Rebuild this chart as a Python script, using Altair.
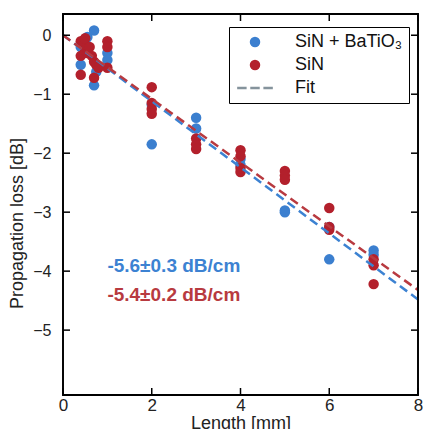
import altair as alt
import pandas as pd

# ---- data ----
blue_x = [0.4, 0.4, 0.5, 0.55, 0.7, 0.7, 0.75, 1.0, 1.0, 2, 2, 3, 3, 4, 4, 5, 5, 6, 6, 7, 7]
blue_y = [-0.2, -0.5, -0.1, -0.03, 0.08, -0.85, -0.62, -0.3, -0.42, -1.18, -1.85,
          -1.4, -1.58, -2.1, -2.2, -2.97, -3.0, -3.25, -3.8, -3.65, -3.72]
red_x = [0.4, 0.4, 0.4, 0.45, 0.5, 0.5, 0.55, 0.6, 0.65, 0.7, 0.7, 0.75, 0.8, 1.0, 1.0, 1.0,
         2, 2, 2, 2, 3, 3, 3, 4, 4, 4, 4, 5, 5, 5, 6, 6, 6, 7, 7, 7]
red_y = [-0.1, -0.35, -0.67, -0.15, -0.05, -0.25, -0.3, -0.2, -0.35, -0.45, -0.72, -0.5, -0.55,
         -0.1, -0.2, -0.55, -0.88, -1.15, -1.25, -1.33, -1.75, -1.85, -1.93,
         -1.95, -2.05, -2.25, -2.32, -2.3, -2.38, -2.45, -2.93, -3.25, -3.3, -3.8, -3.9, -4.22]

series_names = ["SiN + BaTiO\u2083", "SiN", "Fit"]
series_colors = ["#3b7fcf", "#b3202c", "#85939c"]
fit_slopes = [-0.56, -0.54]          # dB/mm  (= -5.6 and -5.4 dB/cm)
fit_colors = ["#3c82d2", "#b83a40"]
fit_x = [0, 8]
ann_text = ["-5.6\u00b10.3 dB/cm", "-5.4\u00b10.2 dB/cm"]
ann_x = [1.0, 1.0]
ann_y = [-3.92, -4.41]
x_ticks = [0, 2, 4, 6, 8]
y_ticks = [0, -1, -2, -3, -4, -5]

W, H = 355, 381
FONT = "Liberation Sans"

pts = pd.DataFrame({
    "series": [series_names[0]] * len(blue_x) + [series_names[1]] * len(red_x),
    "x": blue_x + red_x,
    "y": blue_y + red_y,
})
fit_rows = []
for name, s in zip(series_names[:2], fit_slopes):
    for xv in fit_x:
        fit_rows.append({"fit": name, "x": xv, "y": s * xv})
fit = pd.DataFrame(fit_rows)
ann = pd.DataFrame({"t": ann_text, "x": ann_x, "y": ann_y, "k": [0, 1]})

xs = alt.Scale(domain=[0, 8], nice=False, zero=False)
ys = alt.Scale(domain=[-6.1, 0.36], nice=False, zero=False)

# dashed-line legend symbol made of three small filled bars
fit_path = ("M-3.4,-0.26H-1.6V0.26H-3.4Z"
            "M-0.9,-0.26H0.9V0.26H-0.9Z"
            "M1.6,-0.26H3.4V0.26H1.6Z")

legend = alt.Legend(title=None, orient="none", legendX=166, legendY=13,
                    fillColor="white", strokeColor="black", padding=6,
                    rowPadding=5, labelFontSize=18, labelFont=FONT, labelColor="#111",
                    symbolSize=110, symbolOffset=11, labelOffset=31, symbolStrokeWidth=0)

points = alt.Chart(pts).mark_point(filled=True, opacity=1, size=110).encode(
    x=alt.X("x:Q", scale=xs, axis=alt.Axis(values=x_ticks, title="Length [mm]", grid=False, format="d",
                                           ticks=False, domain=False, labelPadding=2, labelFlush=False,
                                           titleY=19, titleBaseline="top",
                                           labelFontSize=17, titleFontSize=18)),
    y=alt.Y("y:Q", scale=ys, axis=alt.Axis(values=y_ticks, title="Propagation loss [dB]", grid=False,
                                           format="d", ticks=False, domain=False, labelPadding=12,
                                           labelFlush=False, titlePadding=6, titleY=209,
                                           labelFontSize=16, titleFontSize=18)),
    color=alt.Color("series:N", scale=alt.Scale(domain=series_names, range=series_colors),
                    legend=legend),
    shape=alt.Shape("series:N", scale=alt.Scale(domain=series_names,
                                                range=["circle", "circle", fit_path]),
                    legend=legend),
)

lines = alt.Chart(fit).mark_line(strokeDash=[9, 5], strokeWidth=2.5).encode(
    x=alt.X("x:Q", scale=xs),
    y=alt.Y("y:Q", scale=ys),
    stroke=alt.Stroke("fit:N", scale=alt.Scale(domain=series_names[:2], range=fit_colors), legend=None),
)

txt_layers = []
for k, col in enumerate(fit_colors):
    txt_layers.append(
        alt.Chart(ann).transform_filter(alt.datum.k == k).mark_text(
            align="left", baseline="middle", fontSize=19, fontWeight="bold", font=FONT, color=col
        ).encode(x=alt.X("x:Q", scale=xs), y=alt.Y("y:Q", scale=ys), text="t:N")
    )

xt = pd.DataFrame({"v": x_ticks})
yt = pd.DataFrame({"v": y_ticks})
tick_style = dict(color="black", strokeWidth=1.5)
bt = alt.Chart(xt).mark_rule(**tick_style).encode(x=alt.X("v:Q", scale=xs), y=alt.value(H), y2=alt.value(H - 7))
tt = alt.Chart(xt).mark_rule(**tick_style).encode(x=alt.X("v:Q", scale=xs), y=alt.value(0), y2=alt.value(7))
lt = alt.Chart(yt).mark_rule(**tick_style).encode(y=alt.Y("v:Q", scale=ys), x=alt.value(0), x2=alt.value(7))
rt = alt.Chart(yt).mark_rule(**tick_style).encode(y=alt.Y("v:Q", scale=ys), x=alt.value(W), x2=alt.value(W - 7))
frame = alt.Chart(pd.DataFrame({"f": [0]})).mark_rect(
    fillOpacity=0, stroke="black", strokeWidth=1.8
).encode(x=alt.value(0), x2=alt.value(W), y=alt.value(0), y2=alt.value(H))

chart = alt.layer(points, lines, *txt_layers, bt, tt, lt, rt, frame).properties(
    width=W, height=H,
    background="white",
    autosize=alt.AutoSizeParams(type="none"),
    padding={"left": 55, "top": 6, "right": 7, "bottom": 34},
).configure_view(stroke="black", strokeWidth=1.5).configure_axis(
    labelFont=FONT, titleFont=FONT, labelColor="#222", titleColor="#222", titleFontWeight="normal"
)

chart.save("out.html", embed_options={"renderer": "svg", "actions": False})
